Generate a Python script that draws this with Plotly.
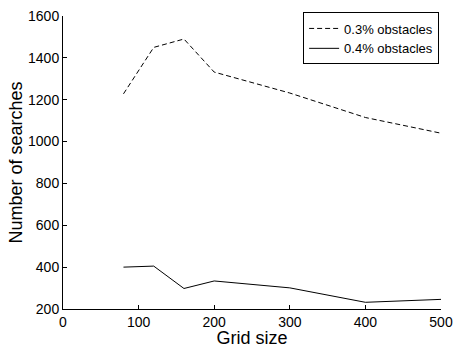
import plotly.graph_objects as go

grid_size = [80, 120, 160, 200, 300, 400, 500]
obst_03 = [1228, 1450, 1490, 1332, 1232, 1115, 1040]
obst_04 = [400, 405, 298, 334, 301, 232, 246]

fig = go.Figure()
fig.add_trace(go.Scatter(x=grid_size, y=obst_03, mode="lines", name="0.3% obstacles",
                         line=dict(color="black", width=1, dash="5px,3px")))
fig.add_trace(go.Scatter(x=grid_size, y=obst_04, mode="lines", name="0.4% obstacles",
                         line=dict(color="black", width=1)))

fig.update_layout(
    width=453, height=348,
    margin=dict(l=63, r=12, t=13, b=39),
    plot_bgcolor="white", paper_bgcolor="white",
    font=dict(family="Liberation Sans, Arial, sans-serif", color="black", size=14),
    showlegend=True,
    legend=dict(x=0.995, y=1.012, xanchor="right", yanchor="top",
                bordercolor="black", borderwidth=1, bgcolor="white",
                font=dict(size=13), tracegroupgap=0, itemwidth=30),
)
fig.update_xaxes(range=[0, 500], tickvals=[0, 100, 200, 300, 400, 500],
                 showline=True, linecolor="black", linewidth=1, mirror=False, automargin=False,
                 ticks="inside", ticklen=4, tickcolor="black", showgrid=False, zeroline=False,
                 tickfont=dict(size=14),
                 title=dict(text="Grid size", font=dict(size=18), standoff=0))
fig.update_yaxes(range=[200, 1600], tickvals=list(range(200, 1601, 200)),
                 showline=True, linecolor="black", linewidth=1, mirror=False, automargin=False,
                 ticks="inside", ticklen=4, tickcolor="black", showgrid=False, zeroline=False,
                 tickfont=dict(size=14),
                 title=dict(text="Number of searches", font=dict(size=18), standoff=0))

fig.write_html("out.html", config={"displayModeBar": False},
               post_script="document.body.style.margin='0px';")
